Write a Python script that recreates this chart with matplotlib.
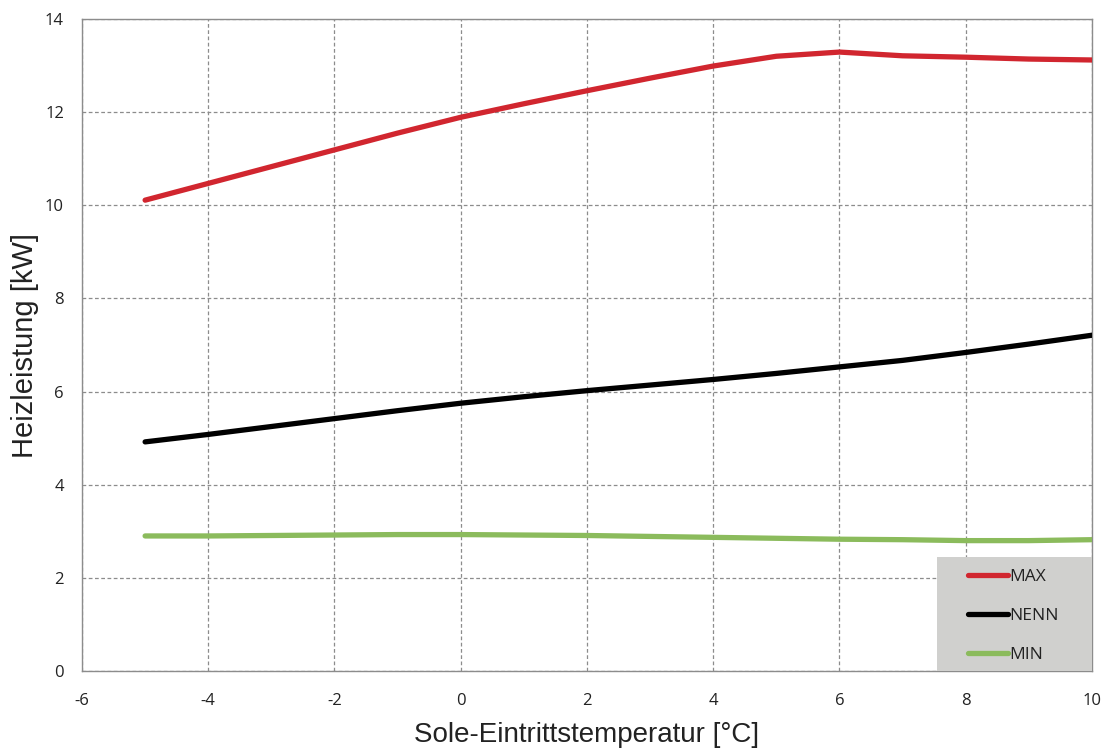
import matplotlib.pyplot as plt
import numpy as np
from matplotlib.patches import Rectangle

plt.rcParams['font.family'] = 'Open Sans'
plt.rcParams['axes.unicode_minus'] = False

temps = [-5, -4, -3, -2, -1, 0, 1, 2, 3, 4, 5, 6, 7, 8, 9, 10]
max_kw = [10.11, 10.47, 10.83, 11.19, 11.55, 11.89, 12.18, 12.46, 12.73, 12.99, 13.20, 13.29, 13.21, 13.18, 13.14, 13.12]
nenn_kw = [4.92, 5.08, 5.25, 5.42, 5.59, 5.75, 5.89, 6.02, 6.14, 6.26, 6.39, 6.53, 6.67, 6.84, 7.02, 7.21]
min_kw = [2.90, 2.90, 2.91, 2.92, 2.93, 2.93, 2.92, 2.91, 2.89, 2.87, 2.85, 2.83, 2.82, 2.80, 2.80, 2.82]

series = ['MAX', 'NENN', 'MIN']
colors = ['#D1262F', '#000000', '#8BBB5C']

fig = plt.figure(figsize=(11.02, 7.51), dpi=100)
ax = fig.add_axes([0.0744, 0.1065, 0.9165, 0.8682])

for vals, name, col in zip([max_kw, nenn_kw, min_kw], series, colors):
    ax.plot(temps, vals, color=col, linewidth=3.8, label=name,
            solid_capstyle='round', solid_joinstyle='round', zorder=3)

ax.set_xlim(-6, 10)
ax.set_ylim(0, 14)
ax.set_xticks(np.arange(-6, 11, 2))
ax.set_yticks(np.arange(0, 15, 2))
ax.grid(True, linestyle=(0, (3, 2)), color='#8C8C8C', linewidth=0.9)
for s in ax.spines.values():
    s.set_color('#8C8C8C')
    s.set_linewidth(1.0)
ax.tick_params(length=0, labelsize=12, colors='#222222')
ax.tick_params(axis='x', pad=16)
ax.tick_params(axis='y', pad=13)

ax.set_xlabel('Sole-Eintrittstemperatur [°C]', family='Liberation Sans', fontsize=20, color='#222222', labelpad=9)
ax.set_ylabel('Heizleistung [kW]', family='Liberation Sans', fontsize=21, color='#222222', labelpad=4)

# grey legend panel in the lower right corner
ax.add_patch(Rectangle((0.8465, 0), 0.1535, 0.1748, transform=ax.transAxes,
                       facecolor='#D0D0CE', edgecolor='none', zorder=4))
leg = ax.legend(loc='upper left', bbox_to_anchor=(0.877, 0.157), borderaxespad=0,
                frameon=False, borderpad=0, handlelength=2.3, handletextpad=0.1,
                labelspacing=1.32, fontsize=12.5)
leg.set_zorder(5)
for t in leg.get_texts():
    t.set_color('#222222')

fig.savefig('out.png', dpi=100)
